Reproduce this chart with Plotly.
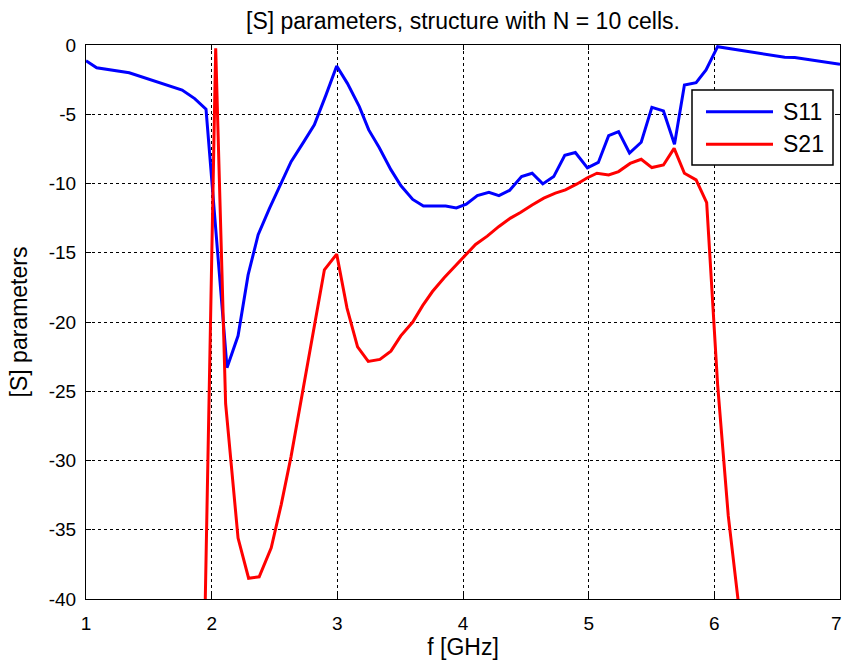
import plotly.graph_objects as go

# S11 (blue)
f_s11 = [1.0, 1.085, 1.344, 1.51, 1.68, 1.765, 1.865, 1.955, 2.122, 2.21, 2.29, 2.37,
         2.46, 2.54, 2.632, 2.725, 2.817, 2.91, 2.995, 3.08, 3.175, 3.25, 3.333, 3.426,
         3.505, 3.6, 3.685, 3.77, 3.862, 3.947, 4.026, 4.114, 4.206, 4.286, 4.37, 4.466,
         4.55, 4.635, 4.722, 4.81, 4.894, 4.99, 5.077, 5.159, 5.238, 5.325, 5.418, 5.503,
         5.595, 5.683, 5.762, 5.855, 5.934, 6.026, 6.56, 6.64, 7.0]
s11 = [-1.13, -1.64, -2.0, -2.48, -2.96, -3.25, -3.87, -4.63, -23.3, -21.0, -16.6, -13.7,
       -11.8, -10.2, -8.42, -7.1, -5.77, -3.6, -1.52, -2.77, -4.45, -6.13, -7.4, -9.0,
       -10.15, -11.15, -11.63, -11.63, -11.63, -11.76, -11.5, -10.87, -10.63, -10.87, -10.5, -9.5,
       -9.26, -10.03, -9.5, -7.97, -7.76, -8.87, -8.48, -6.55, -6.25, -7.8, -7.02, -4.5,
       -4.76, -7.16, -2.89, -2.72, -1.8, -0.12, -0.89, -0.91, -1.4]

# S21 (red)
f_s21 = [1.945, 2.032, 2.111, 2.21, 2.294, 2.378, 2.474, 2.553, 2.632, 2.72, 2.812, 2.897,
         2.995, 3.077, 3.161, 3.246, 3.339, 3.426, 3.505, 3.6, 3.68, 3.757, 3.85, 3.942,
         4.026, 4.1, 4.193, 4.286, 4.378, 4.457, 4.55, 4.643, 4.735, 4.815, 4.907, 4.987,
         5.066, 5.159, 5.238, 5.33, 5.418, 5.503, 5.595, 5.68, 5.762, 5.855, 5.939, 6.026,
         6.111, 6.197]
s21 = [-42.0, -0.24, -25.9, -35.6, -38.5, -38.4, -36.3, -33.2, -29.7, -25.2, -20.6, -16.23,
       -15.1, -19.0, -21.8, -22.85, -22.7, -22.1, -21.0, -20.0, -18.8, -17.8, -16.8, -15.9,
       -15.1, -14.4, -13.8, -13.1, -12.5, -12.1, -11.55, -11.06, -10.7, -10.46, -10.03, -9.6,
       -9.26, -9.38, -9.14, -8.55, -8.25, -8.85, -8.66, -7.46, -9.26, -9.74, -11.38, -24.5,
       -34.0, -40.7]

series_names = ["S11", "S21"]
series_colors = ["#0000FF", "#FF0000"]

x_ticks = [1, 2, 3, 4, 5, 6, 7]
x_ticklabels = ["1", "2", "3", "4", "5", "6", "7"]
y_ticks = [0, -5, -10, -15, -20, -25, -30, -35, -40]

FONT = "Liberation Sans, Arial, sans-serif"

L, R, T, B = 86, 4, 45, 64
W, H = 844, 663
PW, PH = W - L - R, H - T - B

fig = go.Figure()
fig.add_trace(go.Scatter(x=f_s11, y=s11, mode="lines", name=series_names[0],
                         line=dict(color=series_colors[0], width=3)))
fig.add_trace(go.Scatter(x=f_s21, y=s21, mode="lines", name=series_names[1],
                         line=dict(color=series_colors[1], width=3)))

axis_common = dict(showline=True, linecolor="black", linewidth=1, mirror="ticks",
                   ticks="inside", ticklen=5, tickcolor="black",
                   showgrid=True, gridcolor="black", griddash="dot", gridwidth=1,
                   zeroline=False, tickfont=dict(family=FONT, size=19, color="black"),
                   automargin=False)

# last x tick label is placed as an annotation so it stays inside the page edge
fig.update_xaxes(range=[1, 7], tickvals=x_ticks,
                 ticktext=x_ticklabels[:-1] + [""],
                 ticklabelstandoff=7,
                 title=dict(text="f [GHz]", font=dict(family=FONT, size=23, color="black"), standoff=5),
                 **axis_common)
fig.update_yaxes(range=[-40, 0], tickvals=y_ticks, ticktext=[str(v) for v in y_ticks],
                 ticklabelstandoff=5,
                 title=dict(text="[S] parameters", font=dict(family=FONT, size=23, color="black"), standoff=14),
                 **axis_common)

def px_to_paper_x(px):
    return (px - L) / float(PW)

def px_to_paper_y(py):
    return (H - B - py) / float(PH)

annotations = [dict(xref="x", yref="paper", x=x_ticks[-1], y=0, xanchor="right", yanchor="middle",
                    xshift=4, yshift=-24, showarrow=False, text=x_ticklabels[-1],
                    font=dict(family=FONT, size=19, color="black"))]

# legend box (pixel-measured)
shapes = [dict(type="rect", xref="paper", yref="paper",
               x0=px_to_paper_x(692), x1=px_to_paper_x(833),
               y0=px_to_paper_y(165), y1=px_to_paper_y(90),
               line=dict(color="black", width=1.5), fillcolor="white", layer="above")]
for i, (nm, col) in enumerate(zip(series_names, series_colors)):
    yy = px_to_paper_y(111.7 + i * 32.5)
    shapes.append(dict(type="line", xref="paper", yref="paper",
                       x0=px_to_paper_x(706), x1=px_to_paper_x(773), y0=yy, y1=yy,
                       line=dict(color=col, width=3), layer="above"))
    annotations.append(dict(xref="paper", yref="paper", x=px_to_paper_x(781), y=yy,
                            xanchor="left", yanchor="middle", showarrow=False, text=nm,
                            font=dict(family=FONT, size=23, color="black")))

fig.update_layout(
    width=W, height=H,
    margin=dict(l=L, r=R, t=T, b=B, autoexpand=False),
    paper_bgcolor="white", plot_bgcolor="white",
    title=dict(text="[S] parameters, structure with N = 10 cells.",
               font=dict(family=FONT, size=23, color="black"),
               x=0.5, xanchor="center", xref="paper", y=0.968, yanchor="middle"),
    shapes=shapes, annotations=annotations,
    showlegend=False,
)

fig.write_html("out.html")
